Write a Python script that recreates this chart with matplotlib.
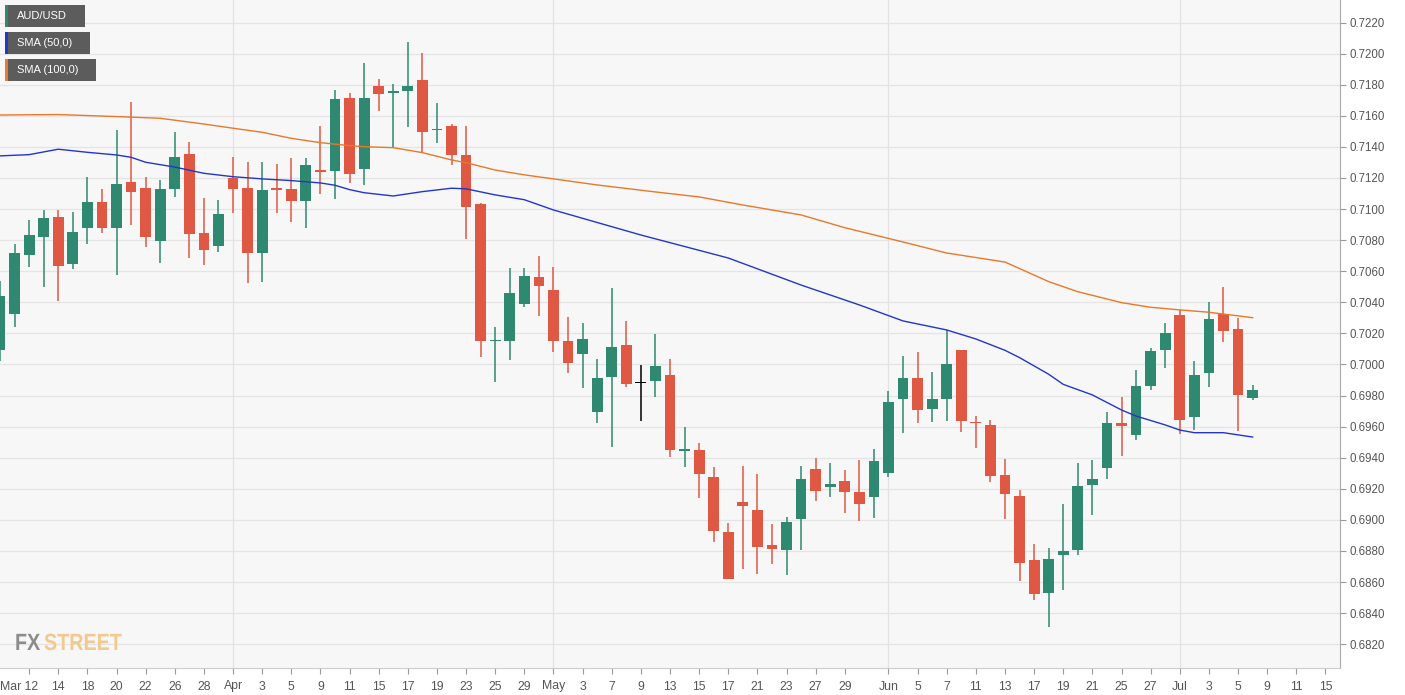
import numpy as np
import pandas as pd
import matplotlib
matplotlib.use("Agg")
import matplotlib.pyplot as plt
from matplotlib.patches import Rectangle, PathPatch
from matplotlib.textpath import TextPath
from matplotlib.font_manager import FontProperties
from matplotlib.transforms import ScaledTranslation, Affine2D

plt.rcParams['font.family'] = ['Liberation Sans', 'DejaVu Sans']

# AUD/USD daily candles, 8 Mar - 8 Jul 2019, prices in pips (x 1e-4)
dates = pd.bdate_range('2019-03-08', '2019-07-08')
opens = [7009.0, 7032.3, 7070.5, 7082.2, 7095.1, 7064.5, 7087.6, 7104.6, 7088.0, 7117.4,
         7113.4, 7079.7, 7112.9, 7135.3, 7084.8, 7076.4, 7120.2, 7113.4, 7071.5, 7113.4,
         7112.9, 7105.4, 7125.1, 7124.7, 7171.3, 7125.8, 7179.0, 7174.9, 7175.8, 7183.3,
         7150.9, 7153.5, 7134.8, 7103.5, 7015.0, 7015.4, 7038.7, 7056.3, 7047.9, 7015.3,
         7006.6, 6969.6, 6991.9, 7012.5, 6987.8, 6989.4, 6993.2, 6944.6, 6945.0, 6927.6,
         6892.2, 6911.3, 6906.2, 6884.0, 6880.8, 6900.4, 6932.5, 6921.4, 6925.0, 6917.9,
         6914.9, 6930.4, 6977.6, 6991.3, 6971.2, 6977.6, 7009.1, 6963.2, 6961.1, 6928.6,
         6915.2, 6874.4, 6853.1, 6877.2, 6880.6, 6922.3, 6933.2, 6962.5, 6954.4, 6986.3,
         7009.3, 7031.8, 6966.0, 6994.5, 7032.3, 7022.8, 6978.2]
highs = [7054.0, 7077.5, 7093.0, 7099.4, 7099.4, 7097.9, 7120.5, 7112.7, 7150.9, 7168.9,
         7120.5, 7118.5, 7149.4, 7143.0, 7107.3, 7105.6, 7133.7, 7130.5, 7130.5, 7129.0,
         7132.7, 7132.7, 7153.5, 7176.6, 7174.5, 7193.8, 7183.5, 7180.5, 7207.3, 7200.2,
         7168.1, 7154.9, 7153.5, 7104.1, 7024.3, 7061.9, 7062.3, 7069.8, 7062.5, 7030.4,
         7026.5, 7003.5, 7049.0, 7028.0, 6999.7, 7019.4, 7003.3, 6960.0, 6949.3, 6934.2,
         6898.2, 6934.9, 6929.3, 6897.2, 6902.0, 6934.9, 6940.0, 6936.4, 6932.1, 6938.5,
         6945.4, 6983.1, 7005.5, 7008.2, 6995.0, 7022.2, 7009.1, 6967.0, 6964.3, 6939.0,
         6919.0, 6884.7, 6882.1, 6910.0, 6936.4, 6938.3, 6969.2, 6979.3, 6996.3, 7010.4,
         7026.5, 7035.1, 7002.2, 7040.4, 7050.1, 7030.1, 6986.8]
lows = [7002.0, 7024.1, 7062.5, 7049.7, 7041.0, 7061.2, 7077.3, 7084.4, 7057.4, 7089.6,
        7075.4, 7065.1, 7107.8, 7068.3, 7064.0, 7072.2, 7097.3, 7052.2, 7053.3, 7097.3,
        7091.9, 7087.6, 7109.5, 7106.3, 7116.6, 7115.5, 7163.3, 7139.5, 7153.0, 7135.9,
        7142.3, 7128.4, 7080.6, 7004.6, 6988.5, 7002.9, 7037.2, 7031.2, 7007.8, 6994.3,
        6984.7, 6962.2, 6947.1, 6985.3, 6963.8, 6978.9, 6940.3, 6934.2, 6913.9, 6886.0,
        6862.0, 6868.2, 6865.0, 6871.4, 6864.5, 6880.6, 6912.2, 6914.5, 6904.2, 6899.3,
        6901.0, 6927.4, 6956.1, 6962.2, 6962.8, 6963.6, 6956.4, 6946.4, 6924.2, 6900.4,
        6860.7, 6848.4, 6831.3, 6854.9, 6877.4, 6903.1, 6926.1, 6941.3, 6951.2, 6983.6,
        6997.5, 6955.1, 6957.8, 6985.3, 7014.7, 6957.2, 6977.1]
closes = [7044.0, 7071.5, 7083.3, 7094.1, 7063.6, 7085.3, 7104.7, 7087.6, 7116.1, 7111.2,
          7082.2, 7112.7, 7133.5, 7083.8, 7073.7, 7096.8, 7112.7, 7071.5, 7112.3, 7112.3,
          7105.4, 7128.4, 7124.1, 7170.6, 7122.6, 7171.3, 7174.2, 7175.5, 7179.2, 7149.6,
          7151.5, 7134.8, 7101.5, 7015.3, 7016.0, 7046.3, 7057.1, 7050.7, 7015.3, 7000.8,
          7016.2, 6991.1, 7011.3, 6987.4, 6987.8, 6999.2, 6945.0, 6945.2, 6929.3, 6893.0,
          6862.2, 6909.1, 6882.4, 6881.5, 6898.8, 6926.3, 6918.4, 6922.9, 6917.9, 6910.2,
          6937.9, 6976.1, 6991.3, 6970.5, 6977.8, 7000.1, 6963.6, 6962.3, 6928.4, 6916.5,
          6872.1, 6852.1, 6875.0, 6880.0, 6922.0, 6926.1, 6962.2, 6960.6, 6986.2, 7008.9,
          7020.1, 6964.3, 6993.2, 7029.3, 7021.5, 6980.4, 6983.4]

# moving averages
sma50_dates = ['2019-03-08', '2019-03-12', '2019-03-14', '2019-03-18', '2019-03-20', '2019-03-21',
               '2019-03-22', '2019-03-26', '2019-03-28', '2019-04-01', '2019-04-03', '2019-04-05',
               '2019-04-09', '2019-04-10', '2019-04-11', '2019-04-12', '2019-04-16', '2019-04-18',
               '2019-04-22', '2019-04-23', '2019-04-25', '2019-04-29', '2019-05-01', '2019-05-09',
               '2019-05-17', '2019-05-24', '2019-05-30', '2019-06-04', '2019-06-07', '2019-06-11',
               '2019-06-13', '2019-06-14', '2019-06-18', '2019-06-19', '2019-06-21', '2019-06-25',
               '2019-06-26', '2019-06-28', '2019-07-01', '2019-07-02', '2019-07-04', '2019-07-08']
sma50 = [7134.2, 7135.0, 7138.5, 7136.5, 7134.8, 7133.3, 7130.1, 7127.0, 7123.0, 7120.8,
         7119.4, 7118.3, 7116.8, 7115.3, 7112.5, 7110.5, 7108.4, 7111.2, 7113.4, 7113.0,
         7109.1, 7106.0, 7099.4, 7083.3, 7068.5, 7051.1, 7038.3, 7028.0, 7022.2, 7016.4,
         7009.1, 7004.4, 6993.7, 6987.2, 6980.4, 6970.7, 6966.8, 6961.1, 6957.8, 6956.1,
         6956.1, 6953.3]
sma100_dates = ['2019-03-08', '2019-03-14', '2019-03-20', '2019-03-25', '2019-03-28', '2019-04-01',
                '2019-04-03', '2019-04-05', '2019-04-09', '2019-04-11', '2019-04-12', '2019-04-16',
                '2019-04-18', '2019-04-22', '2019-04-23', '2019-04-25', '2019-04-29', '2019-05-06',
                '2019-05-10', '2019-05-15', '2019-05-20', '2019-05-24', '2019-05-29', '2019-06-04',
                '2019-06-07', '2019-06-13', '2019-06-18', '2019-06-20', '2019-06-25', '2019-06-27',
                '2019-07-01', '2019-07-03', '2019-07-08']
sma100 = [7160.5, 7160.8, 7159.5, 7158.4, 7154.7, 7152.0, 7149.4, 7145.5, 7142.7, 7140.8,
          7140.1, 7139.5, 7136.3, 7131.6, 7129.8, 7125.1, 7122.0, 7115.5, 7111.0, 7107.8,
          7102.6, 7096.2, 7088.0, 7078.8, 7071.7, 7065.9, 7053.3, 7046.8, 7039.8, 7036.8,
          7035.1, 7033.6, 7030.1]

tick_dates = ['2019-03-12', '2019-03-14', '2019-03-18', '2019-03-20', '2019-03-22', '2019-03-26',
              '2019-03-28', '2019-04-01', '2019-04-03', '2019-04-05', '2019-04-09', '2019-04-11',
              '2019-04-15', '2019-04-17', '2019-04-19', '2019-04-23', '2019-04-25', '2019-04-29',
              '2019-05-01', '2019-05-03', '2019-05-07', '2019-05-09', '2019-05-13', '2019-05-15',
              '2019-05-17', '2019-05-21', '2019-05-23', '2019-05-27', '2019-05-29', '2019-06-03',
              '2019-06-05', '2019-06-07', '2019-06-11', '2019-06-13', '2019-06-17', '2019-06-19',
              '2019-06-21', '2019-06-25', '2019-06-27', '2019-07-01', '2019-07-03', '2019-07-05',
              '2019-07-09', '2019-07-11', '2019-07-15']
tick_labels = ['Mar 12', '14', '18', '20', '22', '26', '28', 'Apr', '3', '5', '9', '11', '15',
               '17', '19', '23', '25', '29', 'May', '3', '7', '9', '13', '15', '17', '21', '23',
               '27', '29', 'Jun', '5', '7', '11', '13', '17', '19', '21', '25', '27', 'Jul', '3',
               '5', '9', '11', '15']
month_starts = ['2019-04-01', '2019-05-01', '2019-06-03', '2019-07-01']

UP = '#2f8870'
DOWN = '#de5844'

o = np.array(opens) / 1e4
h = np.array(highs) / 1e4
l = np.array(lows) / 1e4
c = np.array(closes) / 1e4
x = np.arange(len(dates))
cols = [UP if cc > oo else (DOWN if cc < oo else 'black') for oo, cc in zip(o, c)]

W, H = 1405, 695
fig = plt.figure(figsize=(W / 100, H / 100), dpi=100)
fig.patch.set_facecolor('white')
ax = fig.add_axes([0, 1 - 668 / H, 1340 / W, 668 / H])
ax.set_facecolor('#f7f7f7')

all_days = pd.bdate_range('2019-03-08', '2019-07-19')
for m in month_starts:
    ax.axvline(all_days.get_loc(pd.Timestamp(m)), color='#e2e2e2', lw=0.9, zorder=0)

# candles
ax.vlines(x, l, h, color=cols, lw=1.1, zorder=2)
body = np.maximum(np.abs(c - o), 0.00008)
ax.bar(x, body, width=0.74, bottom=np.minimum(o, c), color=cols, zorder=3)

# SMAs
p50 = all_days.get_indexer(pd.to_datetime(sma50_dates))
p100 = all_days.get_indexer(pd.to_datetime(sma100_dates))
ax.plot(p50, np.array(sma50) / 1e4, color='#2236c8', lw=1.0, zorder=4)
ax.plot(p100, np.array(sma100) / 1e4, color='#e8782a', lw=1.0, zorder=4)

ax.set_xlim(0, 92)
ax.set_ylim(0.68047, 0.72345)

ax.set_yticks(np.arange(0.682, 0.72201, 0.002))
ax.yaxis.tick_right()
ax.yaxis.set_major_formatter(plt.FormatStrFormatter('%.4f'))
ax.grid(axis='y', color='#e4e4e4', lw=0.9, zorder=0)
ax.set_axisbelow(True)

xpos = all_days.get_indexer(pd.to_datetime(tick_dates))
ax.set_xticks(xpos)
ax.set_xticklabels(tick_labels)
ax.tick_params(axis='x', length=4, color='#999999', labelsize=8.8, labelcolor='#555555', pad=5)
ax.tick_params(axis='y', length=4, color='#999999', labelsize=8.3, labelcolor='#555555', pad=3)
first = ax.get_xticklabels()[0]
first.set_ha('right')
first.set_transform(first.get_transform() + ScaledTranslation(0.085, 0, fig.dpi_scale_trans))

for s in ['top', 'left']:
    ax.spines[s].set_visible(False)
ax.spines['right'].set_color('#aaaaaa')
ax.spines['bottom'].set_color('#cccccc')


def fx(px):
    return px / W


def fy(py):
    return 1 - py / H


# legend boxes
legend = [('AUD/USD', UP, 80), ('SMA (50,0)', '#2236c8', 85), ('SMA (100,0)', '#e8782a', 91)]
for k, (name, col, wd) in enumerate(legend):
    top = 5 + k * 27
    fig.add_artist(Rectangle((fx(5), fy(top + 22)), fx(wd), 22 / H, transform=fig.transFigure,
                             facecolor='#5c5c5c', edgecolor='none', zorder=10))
    fig.add_artist(Rectangle((fx(5), fy(top + 22)), fx(2.5), 22 / H, transform=fig.transFigure,
                             facecolor=col, edgecolor='none', zorder=11))
    fig.text(fx(17), fy(top + 11), name, color='white', fontsize=8, va='center', ha='left', zorder=12)

# FXStreet logo, condensed bold letters (pixel coordinates)
logo_font = FontProperties(family='Liberation Sans', weight='bold')
for word, x0, col in [('FX', 15, '#8c8c8c'), ('STREET', 44, '#f2c98e')]:
    tp = TextPath((0, 0), word, size=23.5, prop=logo_font)
    tr = Affine2D().scale(0.84, 1.0).translate(x0, H - 650)
    fig.add_artist(PathPatch(tp, transform=tr, facecolor=col, edgecolor='none', zorder=10))

fig.savefig('out.png', dpi=100)
